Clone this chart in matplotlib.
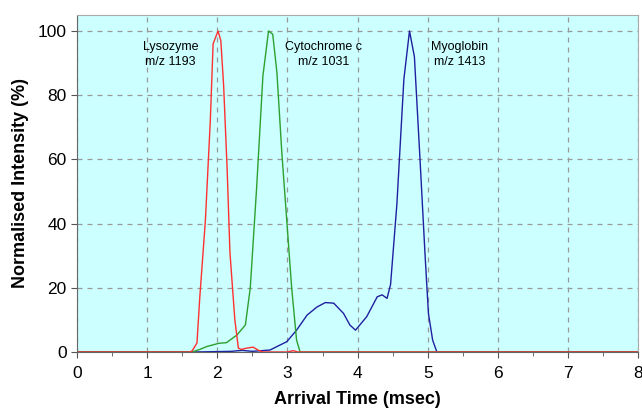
import matplotlib
matplotlib.use('Agg')
import matplotlib.pyplot as plt
import numpy as np

# arrival time (msec) / normalised intensity (%)
lys_t = [0.0, 1.60, 1.64, 1.71, 1.75, 1.83, 1.90, 1.94, 2.01, 2.05, 2.09, 2.14, 2.18, 2.25, 2.30,
         2.34, 2.42, 2.51, 2.58, 2.65, 3.00, 3.08, 3.15, 8.0]
lys_i = [0.0, 0.0, 0.3, 2.8, 17, 41, 72, 96, 100, 97, 83, 57, 31, 10, 1.2,
         0.8, 1.2, 1.5, 0.6, 0.0, 0.0, 0.4, 0.0, 0.0]

cyt_t = [0.0, 1.64, 1.75, 1.85, 2.02, 2.13, 2.28, 2.40, 2.47, 2.56, 2.65, 2.73, 2.79, 2.85,
         2.92, 2.99, 3.06, 3.13, 3.18, 8.0]
cyt_i = [0.0, 0.0, 0.8, 1.7, 2.7, 2.9, 5.3, 8.4, 20, 51, 86, 100, 99, 87,
         62, 41, 20, 3.7, 0.0, 0.0]

myo_t = [0.0, 1.70, 2.20, 2.35, 2.50, 2.75, 2.99, 3.13, 3.28, 3.42, 3.54, 3.66, 3.80, 3.89,
         3.97, 4.13, 4.28, 4.35, 4.42, 4.47, 4.56, 4.66, 4.74, 4.81, 4.89, 4.96, 5.01,
         5.07, 5.13, 8.0]
myo_i = [0.0, 0.0, 0.2, 0.5, 0.2, 0.6, 3.2, 6.8, 11.5, 14, 15.4, 15.2, 12, 8.4,
         6.8, 11, 17.2, 17.8, 16.7, 21, 46, 85, 100, 92, 60, 31, 12,
         3.7, 0.0, 0.0]

labels = ['Lysozyme\nm/z 1193', 'Cytochrome c\nm/z 1031', 'Myoglobin\nm/z 1413']
label_x = [1.33, 3.52, 5.46]


def draw_arrival():
    plt.rcParams['font.family'] = ['Liberation Sans', 'DejaVu Sans']
    fig = plt.figure(figsize=(6.42, 4.11), dpi=100)
    ax = fig.add_axes([0.12, 0.1436, 0.874, 0.82])
    ax.set_facecolor('#ccffff')

    ax.plot(myo_t, myo_i, color='#1f1fa0', lw=1.0)
    ax.plot(cyt_t, cyt_i, color='#2ea02e', lw=1.0)
    ax.plot(lys_t, lys_i, color='#ff3030', lw=1.0)

    for txt, x in zip(labels, label_x):
        ax.text(x, 92.6, txt, ha='center', va='center', fontsize=9, linespacing=1.35)

    ax.set_xlim(0, 8)
    ax.set_ylim(0, 105)
    ax.set_xticks(np.arange(0, 9, 1))
    ax.set_xticks(np.arange(0.5, 8, 1), minor=True)
    ax.set_yticks(np.arange(0, 101, 20))
    ax.tick_params(axis='both', which='major', labelsize=12.5, direction='out', length=4, color='#555555')
    ax.tick_params(axis='x', which='major', pad=6)
    ax.tick_params(axis='x', which='minor', direction='out', length=3, color='#555555')
    ax.grid(True, color='#999999', linestyle=(0, (4, 4)), linewidth=0.9)
    ax.set_axisbelow(True)
    for s in ['left', 'bottom']:
        ax.spines[s].set_color('#666666')
    for s in ['top', 'right']:
        ax.spines[s].set_color('#aaaaaa')

    ax.set_xlabel('Arrival Time (msec)', fontsize=13, fontweight='bold', labelpad=7)
    ax.set_ylabel('Normalised Intensity (%)', fontsize=13, fontweight='bold', labelpad=6)

    fig.savefig('out.png', dpi=100)


def main():
    draw_arrival()


if __name__ == '__main__':
    main()
